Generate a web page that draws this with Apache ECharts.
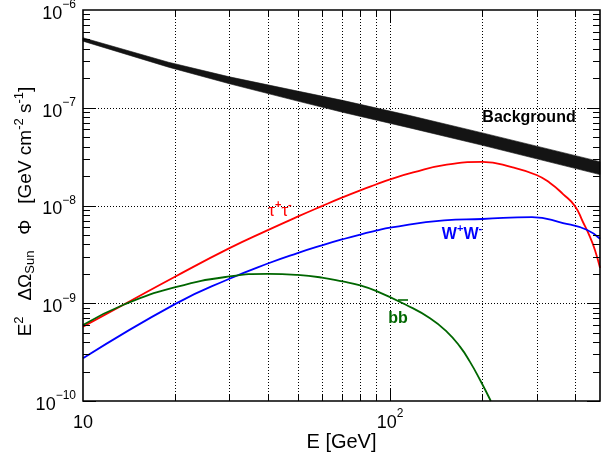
<!DOCTYPE html>
<html>
<head>
<meta charset="utf-8">
<script src="https://cdn.jsdelivr.net/npm/echarts@6/dist/echarts.min.js"></script>
<style>
  html, body { margin: 0; padding: 0; background: #fff; }
  #chart { width: 601px; height: 463px; }
</style>
</head>
<body>
<div id="chart"></div>
<script>
const FONT = '"Liberation Sans", Arial, Helvetica, sans-serif';

// Axis ranges: energy in GeV, flux in GeV cm^-2 s^-1
const energyRange = [10, 483];
const fluxRange = [1e-10, 1e-6];

// Dotted grid positions
const energyGrid = [20, 30, 40, 50, 60, 70, 80, 90, 100, 200, 300, 400];
const fluxDecades = [1e-10, 1e-9, 1e-8, 1e-7, 1e-6];

// Background band (lower / upper edge)
const bgEnergy = [10, 19, 30, 50, 70, 116, 200, 483];
const bgLow  = [4.80e-7, 2.60e-7, 1.76e-7, 1.17e-7, 9.0e-8, 6.22e-8, 4.13e-8, 2.07e-8];
const bgHigh = [5.20e-7, 2.92e-7, 2.07e-7, 1.48e-7, 1.19e-7, 8.32e-8, 5.53e-8, 2.81e-8];

// tau+ tau- channel
const tauEnergy = [10, 13.5, 20, 30, 40, 50, 60, 70, 80, 90, 100, 119, 153, 200, 251, 300, 332, 366, 400, 425, 448, 465, 483];
const tauFlux = [5.77e-10, 9.6e-10, 1.88e-9, 3.66e-9, 5.6e-9, 7.69e-9, 9.86e-9, 1.21e-8, 1.43e-8, 1.64e-8, 1.85e-8, 2.18e-8, 2.62e-8, 2.79e-8, 2.45e-8, 2.05e-8, 1.70e-8, 1.31e-8, 9.9e-9, 6.78e-9, 4.77e-9, 3.51e-9, 2.30e-9];

// W+ W- channel
const wwEnergy = [10, 20, 30, 40, 50, 60, 70, 80, 90, 100, 150, 200, 290, 366, 437, 483];
const wwFlux = [2.73e-10, 9.86e-10, 1.78e-9, 2.55e-9, 3.26e-9, 3.91e-9, 4.51e-9, 5.05e-9, 5.52e-9, 5.94e-9, 7.05e-9, 7.28e-9, 7.62e-9, 6.62e-9, 5.65e-9, 4.57e-9];

// b bbar channel
const bbEnergy = [10, 13.5, 20, 30, 40, 50, 60, 70, 80, 90, 113, 135, 153, 169, 182, 196.5, 213];
const bbFlux = [6.0e-10, 9.6e-10, 1.46e-9, 1.88e-9, 2.0e-9, 1.95e-9, 1.83e-9, 1.67e-9, 1.52e-9, 1.34e-9, 9.6e-10, 7.03e-10, 5.13e-10, 3.6e-10, 2.53e-10, 1.64e-10, 1.0e-10];

const pairs = (xs, ys) => xs.map((x, i) => [x, ys[i]]);

function decadeLabel(v, minus) {
  const e = Math.round(Math.log10(v));
  if (Math.abs(v - Math.pow(10, e)) > 1e-6 * Math.pow(10, e)) return '';
  if (e === 1) return '{b|10}';
  return '{b|10}{sup|' + (e < 0 ? minus : '') + Math.abs(e) + '}';
}

const tickRich = {
  b:   { fontFamily: FONT, fontSize: 18, color: '#000', padding: [8, 0, 0, 0] },
  sup: { fontFamily: FONT, fontSize: 12, color: '#000', padding: [0, 0, 10, 0] }
};

const crisp = v => Math.round(v) + 0.5;

function renderGrid(params, api) {
  const cs = params.coordSys;
  const top = cs.y, bottom = cs.y + cs.height, left = cs.x, right = cs.x + cs.width;
  const dot = { stroke: '#000', lineWidth: 1, lineDash: [1, 2] };
  const children = [];
  energyGrid.forEach(e => {
    const px = crisp(api.coord([e, fluxRange[0]])[0]);
    children.push({ type: 'line', shape: { x1: px, y1: top, x2: px, y2: bottom }, style: dot });
  });
  fluxDecades.slice(1, -1).forEach(f => {
    const py = crisp(api.coord([energyRange[0], f])[1]);
    children.push({ type: 'line', shape: { x1: left, y1: py, x2: right, y2: py }, style: dot });
  });
  return { type: 'group', children };
}

function renderFrame(params, api) {
  const cs = params.coordSys;
  const top = cs.y, bottom = cs.y + cs.height, left = cs.x, right = cs.x + cs.width;
  const ink = { stroke: '#000', lineWidth: 1 };
  const children = [];
  const major = 13, minor = 7;
  // flux ticks on both vertical sides
  for (let n = -10; n < -6; n++) {
    for (let k = 1; k <= 9; k++) {
      const f = k * Math.pow(10, n);
      if (f > fluxRange[1] * 1.0001) continue;
      const py = crisp(api.coord([energyRange[0], f])[1]);
      const len = k === 1 ? major : minor;
      children.push({ type: 'line', shape: { x1: left, y1: py, x2: left + len, y2: py }, style: ink });
      children.push({ type: 'line', shape: { x1: right, y1: py, x2: right - len, y2: py }, style: ink });
    }
  }
  // energy ticks on top and bottom
  energyGrid.forEach(e => {
    const px = crisp(api.coord([e, fluxRange[0]])[0]);
    const len = e === 100 ? major : minor;
    children.push({ type: 'line', shape: { x1: px, y1: bottom, x2: px, y2: bottom - len }, style: ink });
    children.push({ type: 'line', shape: { x1: px, y1: top, x2: px, y2: top + len }, style: ink });
  });
  children.push({
    type: 'rect',
    shape: { x: left, y: top, width: cs.width, height: cs.height },
    style: { fill: null, stroke: '#000', lineWidth: 1.6 }
  });
  return { type: 'group', children };
}

function renderBand(params, api) {
  const upper = bgEnergy.map((e, i) => api.coord([e, bgHigh[i]]));
  const lower = bgEnergy.map((e, i) => api.coord([e, bgLow[i]])).reverse();
  return {
    type: 'polygon',
    shape: { points: upper.concat(lower) },
    style: { fill: '#141414', stroke: '#141414', lineWidth: 0.6 }
  };
}

const chart = echarts.init(document.getElementById('chart'), null, { renderer: 'canvas' });

const curveStyle = { showSymbol: false, smooth: 0.5, clip: true, z: 3 };

const option = {
  animation: false,
  backgroundColor: '#fff',
  grid: { left: 83, right: 1, top: 10, bottom: 62, outerBoundsMode: 'none', containLabel: false },
  xAxis: {
    type: 'log', logBase: 10,
    min: energyRange[0], max: energyRange[1],
    name: 'E [GeV]', nameLocation: 'middle', nameGap: 31, nameMoveOverlap: false,
    nameTextStyle: { fontFamily: FONT, fontSize: 20, color: '#000' },
    axisLine: { show: false }, axisTick: { show: false }, splitLine: { show: false },
    axisLabel: {
      margin: 5, color: '#000',
      formatter: v => decadeLabel(v, '\u2212'),
      rich: tickRich
    }
  },
  yAxis: {
    type: 'log', logBase: 10,
    min: fluxRange[0], max: fluxRange[1],
    name: '{t|E}{sup|2}{t|   \u0394\u03A9}{sub|Sun}{t|   \u03A6   [GeV cm}{sup|-2}{t| s}{sup|-1}{t|]}',
    nameLocation: 'middle', nameRotate: 90, nameGap: 45, nameMoveOverlap: false,
    nameTextStyle: {
      color: '#000',
      padding: [0, 12, 0, 0],
      rich: {
        t:   { fontFamily: FONT, fontSize: 19, color: '#000' },
        sup: { fontFamily: FONT, fontSize: 13, color: '#000', padding: [0, 0, 12, 0] },
        sub: { fontFamily: FONT, fontSize: 13, color: '#000', padding: [10, 0, 0, 0] }
      }
    },
    axisLine: { show: false }, axisTick: { show: false }, splitLine: { show: false },
    axisLabel: {
      margin: 7, color: '#000',
      formatter: v => decadeLabel(v, '\u2212'),
      rich: tickRich
    }
  },
  series: [
    {
      name: 'grid', type: 'custom', renderItem: renderGrid, z: 1, silent: true,
      data: [[energyRange[0], fluxRange[0]]]
    },
    {
      name: 'Background', type: 'custom', renderItem: renderBand, z: 2, silent: true,
      data: [[bgEnergy[0], bgHigh[0]]]
    },
    Object.assign({ name: 'tau', type: 'line', data: pairs(tauEnergy, tauFlux),
      lineStyle: { color: '#ff0000', width: 1.8 } }, curveStyle),
    Object.assign({ name: 'WW', type: 'line', data: pairs(wwEnergy, wwFlux),
      lineStyle: { color: '#0000ff', width: 1.8 } }, curveStyle),
    Object.assign({ name: 'bb', type: 'line', data: pairs(bbEnergy, bbFlux),
      lineStyle: { color: '#006600', width: 1.8 } }, curveStyle),
    {
      name: 'frame', type: 'custom', renderItem: renderFrame, z: 5, silent: true,
      data: [[energyRange[0], fluxRange[0]]]
    }
  ],
  graphic: [
    {
      type: 'text', x: 529, y: 118, z: 10,
      style: { text: 'Background', fontFamily: FONT, fontSize: 16, fontWeight: 'bold', fill: '#000', align: 'center', verticalAlign: 'middle' }
    },
    {
      type: 'text', x: 280, y: 209, z: 10,
      style: {
        text: '{g|\u03C4}{s|+}{g|\u03C4}{s|-}', align: 'center', verticalAlign: 'middle',
        rich: {
          g: { fontFamily: FONT, fontSize: 17, fill: '#ff0000', padding: [4, 0, 0, 0] },
          s: { fontFamily: FONT, fontSize: 11, fontWeight: 'bold', fill: '#ff0000', padding: [0, 0, 8, 0] }
        }
      }
    },
    {
      type: 'text', x: 462, y: 233, z: 10,
      style: {
        text: '{g|W}{s|+}{g|W}{s|-}', align: 'center', verticalAlign: 'middle',
        rich: {
          g: { fontFamily: FONT, fontSize: 16, fontWeight: 'bold', fill: '#0000ff', padding: [4, 0, 0, 0] },
          s: { fontFamily: FONT, fontSize: 11, fontWeight: 'bold', fill: '#0000ff', padding: [0, 0, 8, 0] }
        }
      }
    },
    {
      type: 'text', x: 398, y: 319, z: 10,
      style: { text: 'bb', fontFamily: FONT, fontSize: 16, fontWeight: 'bold', fill: '#006600', align: 'center', verticalAlign: 'middle' }
    },
    {
      type: 'line', z: 10,
      shape: { x1: 398, y1: 300, x2: 408, y2: 300 },
      style: { stroke: '#006600', lineWidth: 1.6 }
    }
  ]
};

chart.setOption(option);
</script>
</body>
</html>
